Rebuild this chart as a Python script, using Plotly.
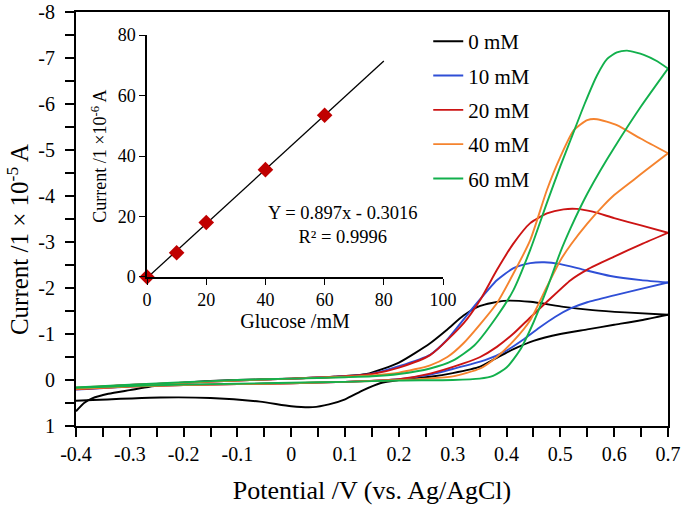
import plotly.graph_objects as go

# ---------------- data: cyclic voltammograms (current in 1e-5 A) ----------------
labels = ["0 mM", "10 mM", "20 mM", "40 mM", "60 mM"]
colors = ["#000000", "#2f4fd6", "#cc1414", "#f5832e", "#12b04c"]

v_fwd_0 = [-0.4, -0.385, -0.37, -0.34, -0.3, -0.243, -0.18, -0.1, 0.0, 0.08, 0.14, 0.2, 0.258, 0.29, 0.32, 0.351, 0.395, 0.444, 0.506, 0.56, 0.62, 0.7]
i_fwd_0 = [0.68, 0.5, 0.4, 0.3, 0.22, 0.11, 0.04, 0.0, -0.03, -0.07, -0.13, -0.38, -0.8, -1.1, -1.4, -1.61, -1.72, -1.7, -1.59, -1.52, -1.47, -1.42]
v_rev_0 = [0.7, 0.65, 0.6, 0.55, 0.5, 0.45, 0.413, 0.38, 0.351, 0.3, 0.258, 0.2, 0.165, 0.134, 0.1, 0.07, 0.04, 0.0, -0.058, -0.15, -0.243, -0.4]
i_rev_0 = [-1.42, -1.3, -1.2, -1.1, -1.0, -0.85, -0.67, -0.47, -0.29, -0.15, -0.07, 0.0, 0.07, 0.22, 0.42, 0.53, 0.59, 0.57, 0.47, 0.39, 0.38, 0.45]

v_fwd_10 = [-0.4, -0.3, -0.2, -0.1, 0.0, 0.1, 0.15, 0.2, 0.258, 0.289, 0.339, 0.382, 0.413, 0.444, 0.47, 0.5, 0.542, 0.593, 0.65, 0.7]
i_fwd_10 = [0.19, 0.11, 0.06, 0.01, -0.03, -0.08, -0.14, -0.3, -0.55, -0.87, -1.59, -2.17, -2.43, -2.54, -2.56, -2.52, -2.4, -2.26, -2.17, -2.12]
v_rev_10 = [0.7, 0.65, 0.6, 0.55, 0.52, 0.49, 0.46, 0.43, 0.4, 0.36, 0.3, 0.25, 0.2, 0.1, 0.0, -0.1, -0.2, -0.3, -0.4]
i_rev_10 = [-2.12, -1.98, -1.84, -1.69, -1.56, -1.37, -1.13, -0.87, -0.64, -0.43, -0.24, -0.1, -0.02, 0.04, 0.07, 0.09, 0.11, 0.14, 0.21]

v_fwd_20 = [-0.4, -0.3, -0.2, -0.1, 0.0, 0.1, 0.15, 0.2, 0.258, 0.32, 0.351, 0.382, 0.413, 0.444, 0.475, 0.506, 0.53, 0.56, 0.6, 0.65, 0.7]
i_fwd_20 = [0.18, 0.11, 0.06, 0.01, -0.03, -0.08, -0.13, -0.27, -0.54, -1.23, -1.74, -2.39, -2.97, -3.41, -3.62, -3.71, -3.72, -3.66, -3.52, -3.36, -3.2]
v_rev_20 = [0.7, 0.65, 0.6, 0.55, 0.519, 0.475, 0.444, 0.413, 0.382, 0.351, 0.32, 0.258, 0.2, 0.1, 0.0, -0.1, -0.2, -0.3, -0.4]
i_rev_20 = [-3.2, -2.95, -2.68, -2.4, -2.17, -1.7, -1.36, -1.01, -0.72, -0.5, -0.36, -0.14, -0.02, 0.04, 0.07, 0.09, 0.11, 0.14, 0.2]

v_fwd_40 = [-0.4, -0.3, -0.2, -0.1, 0.0, 0.1, 0.15, 0.2, 0.258, 0.29, 0.32, 0.35, 0.382, 0.413, 0.444, 0.475, 0.5, 0.525, 0.55, 0.568, 0.605, 0.649, 0.7]
i_fwd_40 = [0.17, 0.11, 0.06, 0.01, -0.03, -0.07, -0.1, -0.16, -0.32, -0.5, -0.8, -1.2, -1.67, -2.32, -3.04, -4.13, -4.85, -5.43, -5.65, -5.67, -5.54, -5.25, -4.93]
v_rev_40 = [0.7, 0.66, 0.636, 0.6, 0.58, 0.55, 0.52, 0.5, 0.475, 0.444, 0.413, 0.382, 0.351, 0.3, 0.25, 0.2, 0.1, 0.0, -0.1, -0.2, -0.3, -0.4]
i_rev_40 = [-4.93, -4.57, -4.35, -4.02, -3.79, -3.4, -2.95, -2.6, -2.03, -1.3, -0.85, -0.5, -0.25, -0.08, -0.03, 0.0, 0.04, 0.07, 0.09, 0.11, 0.14, 0.19]

v_fwd_60 = [-0.4, -0.3, -0.2, -0.1, 0.0, 0.1, 0.15, 0.2, 0.258, 0.3, 0.34, 0.382, 0.413, 0.444, 0.475, 0.5, 0.52, 0.545, 0.568, 0.587, 0.605, 0.624, 0.655, 0.68, 0.7]
i_fwd_60 = [0.16, 0.1, 0.05, 0.0, -0.03, -0.06, -0.08, -0.13, -0.25, -0.42, -0.75, -1.38, -1.96, -2.83, -3.85, -4.65, -5.25, -6.0, -6.62, -6.98, -7.12, -7.16, -7.07, -6.93, -6.77]
v_rev_60 = [0.7, 0.65, 0.6, 0.574, 0.55, 0.537, 0.519, 0.5, 0.475, 0.45, 0.425, 0.4, 0.375, 0.35, 0.3, 0.2, 0.1, 0.0, -0.1, -0.2, -0.3, -0.4]
i_rev_60 = [-6.77, -5.95, -5.05, -4.55, -4.05, -3.75, -3.3, -2.78, -1.98, -1.25, -0.65, -0.27, -0.09, -0.03, 0.0, 0.01, 0.04, 0.06, 0.08, 0.1, 0.13, 0.17]

# ---------------- data: calibration inset ----------------
glucose_mM = [0, 10, 20, 40, 60]
peak_current = [0, 8, 18, 35.5, 53.5]
fit_slope = 0.897
fit_intercept = -0.3016
fit_x = [0, 80]

x_tick_vals = [-0.4, -0.3, -0.2, -0.1, 0.0, 0.1, 0.2, 0.3, 0.4, 0.5, 0.6, 0.7]
x_tick_text = ["-0.4", "-0.3", "-0.2", "-0.1", "0", "0.1", "0.2", "0.3", "0.4", "0.5", "0.6", "0.7"]
y_tick_vals = [1, 0, -1, -2, -3, -4, -5, -6, -7, -8]
y_tick_text = ["1", "0", "-1", "-2", "-3", "-4", "-5", "-6", "-7", "-8"]
x_minor_vals = [round(-0.35 + 0.1 * k, 2) for k in range(11)]
y_minor_vals = [0.5 - k for k in range(9)]

FONT = "Liberation Serif, Times New Roman, serif"

branches = [
    (v_fwd_0, i_fwd_0, v_rev_0, i_rev_0),
    (v_fwd_10, i_fwd_10, v_rev_10, i_rev_10),
    (v_fwd_20, i_fwd_20, v_rev_20, i_rev_20),
    (v_fwd_40, i_fwd_40, v_rev_40, i_rev_40),
    (v_fwd_60, i_fwd_60, v_rev_60, i_rev_60),
]

fig = go.Figure()
for k, (vf, iff, vr, ir) in enumerate(branches):
    fig.add_trace(go.Scatter(
        x=vf, y=iff, mode="lines", name=labels[k], legendgroup=labels[k],
        line=dict(color=colors[k], width=1.9, shape="spline", smoothing=0.6),
    ))
    fig.add_trace(go.Scatter(
        x=vr, y=ir, mode="lines", name=labels[k], legendgroup=labels[k], showlegend=False,
        line=dict(color=colors[k], width=1.9, shape="spline", smoothing=0.6),
    ))

fig.add_trace(go.Scatter(
    x=fit_x, y=[fit_slope * x + fit_intercept for x in fit_x], mode="lines",
    line=dict(color="black", width=1.3), xaxis="x2", yaxis="y2", showlegend=False,
))
fig.add_trace(go.Scatter(
    x=glucose_mM, y=peak_current, mode="markers",
    marker=dict(symbol="diamond", size=12, color="#c00000"),
    xaxis="x2", yaxis="y2", showlegend=False, cliponaxis=False,
))

tickfont = dict(family=FONT, size=20, color="black")
fig.update_layout(
    width=685, height=506,
    margin=dict(l=76, r=17, t=12, b=80, autoexpand=False),
    paper_bgcolor="white", plot_bgcolor="white",
    font=dict(family=FONT, color="black"),
    xaxis=dict(
        range=[-0.4, 0.7], showline=True, linewidth=2, linecolor="black", mirror=True,
        ticks="outside", ticklen=9, tickwidth=1.5, tickcolor="black",
        tickvals=x_tick_vals, ticktext=x_tick_text, tickfont=tickfont,
        minor=dict(ticks="outside", ticklen=9, tickwidth=1.5, tickcolor="black",
                   tickmode="array", tickvals=x_minor_vals),
        showgrid=False, zeroline=False, automargin=False,
        title=dict(text="Potential /V (vs. Ag/AgCl)", font=dict(family=FONT, size=26), standoff=17),
    ),
    yaxis=dict(
        range=[1, -8], showline=True, linewidth=2, linecolor="black", mirror=True,
        ticks="outside", ticklen=9, tickwidth=1.5, tickcolor="black",
        tickvals=y_tick_vals, ticktext=y_tick_text, tickfont=tickfont,
        ticklabelstandoff=6,
        minor=dict(ticks="outside", ticklen=9, tickwidth=1.5, tickcolor="black",
                   tickmode="array", tickvals=y_minor_vals),
        showgrid=False, zeroline=False, automargin=False,
    ),
    xaxis2=dict(
        domain=[0.12, 0.62], anchor="y2", range=[0, 100], showline=True, linewidth=1.5,
        linecolor="black", ticks="outside", ticklen=6, tickwidth=1.2, tickcolor="black",
        tickvals=[0, 20, 40, 60, 80, 100], tickfont=dict(family=FONT, size=18, color="black"),
        showgrid=False, zeroline=False, automargin=False,
        title=dict(text="Glucose /mM", font=dict(family=FONT, size=20), standoff=0),
    ),
    yaxis2=dict(
        domain=[0.36, 0.944], anchor="x2", range=[0, 80], showline=True, linewidth=1.5,
        linecolor="black", ticks="outside", ticklen=6, tickwidth=1.2, tickcolor="black",
        tickvals=[0, 20, 40, 60, 80], tickfont=dict(family=FONT, size=18, color="black"),
        showgrid=False, zeroline=False, automargin=False,
        title=dict(text="Current /1 ×10<sup>-6</sup> A", font=dict(family=FONT, size=18), standoff=6),
    ),
    legend=dict(
        x=0.595, y=0.978, xanchor="left", yanchor="top",
        font=dict(family=FONT, size=21, color="black"),
        bgcolor="rgba(0,0,0,0)", borderwidth=0, tracegroupgap=4,
    ),
    showlegend=True,
)

fig.add_annotation(
    text="Current /1 × 10<sup>-5</sup> A", textangle=-90, showarrow=False,
    xref="paper", yref="paper", x=-0.099, y=0.45, xanchor="center", yanchor="middle",
    font=dict(family=FONT, size=25, color="black"),
)
fig.add_annotation(
    text="Y = 0.897x - 0.3016<br>R² = 0.9996", showarrow=False, align="center",
    xref="x2", yref="y2", x=66.2, y=17.2, xanchor="center", yanchor="middle",
    font=dict(family=FONT, size=18.5, color="black"),
)

fig.write_html("out.html", config={"displayModeBar": False},
               post_script="document.body.style.margin='0px';")
